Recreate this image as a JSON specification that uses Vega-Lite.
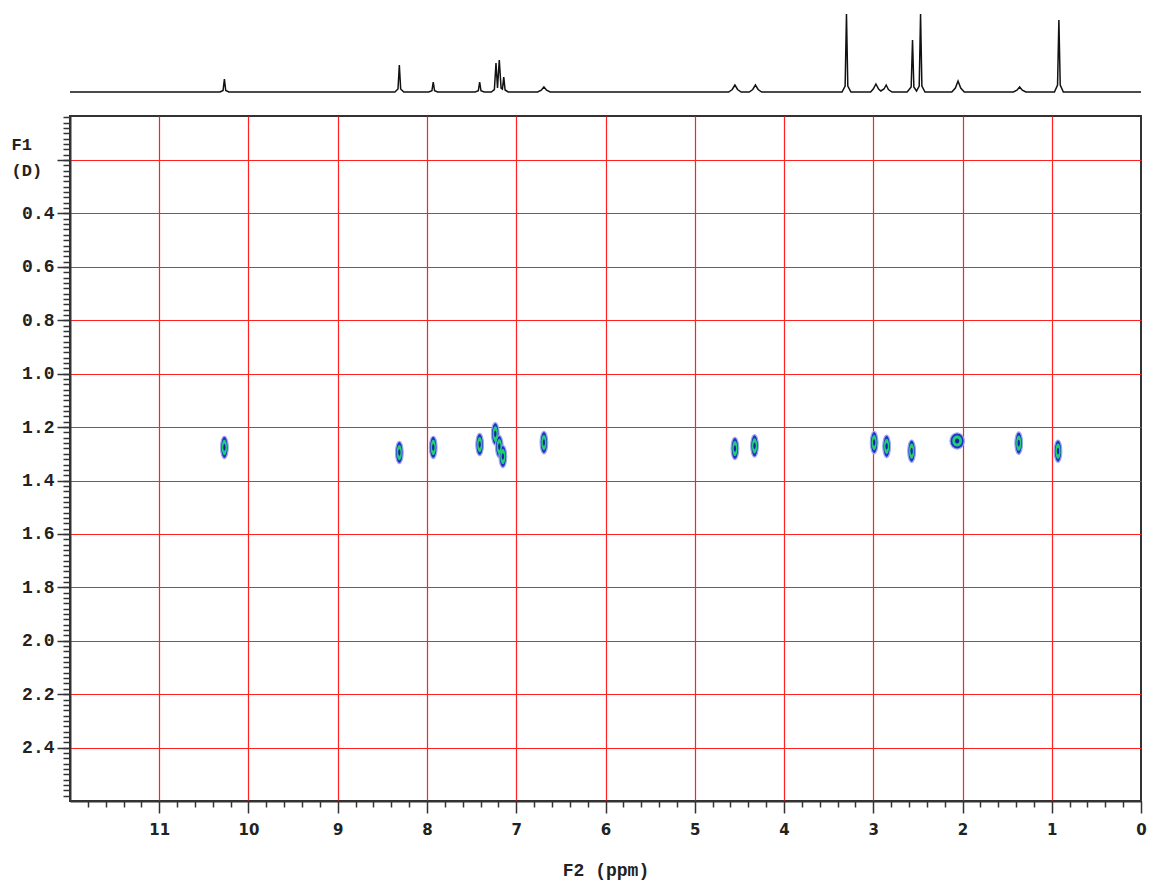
{
  "$schema": "https://vega.github.io/schema/vega-lite/v6.json",
  "background": "white",
  "padding": {"left": 10, "top": 4, "right": 2, "bottom": 2},
  "spacing": 22,
  "bounds": "flush",
  "config": {"axis": {"labelFlush": false, "labelOverlap": false}},
  "datasets": {
    "spectrum": [
      {"ppm": 12, "intensity": 0}, {"ppm": 10.32, "intensity": 0}, {"ppm": 10.285, "intensity": 1.5}, {"ppm": 10.27, "intensity": 13}, {"ppm": 10.255, "intensity": 1.5}, {"ppm": 10.22, "intensity": 0},
      {"ppm": 8.36, "intensity": 0}, {"ppm": 8.325, "intensity": 3}, {"ppm": 8.31, "intensity": 27}, {"ppm": 8.295, "intensity": 3}, {"ppm": 8.26, "intensity": 0},
      {"ppm": 7.98, "intensity": 0}, {"ppm": 7.945, "intensity": 1.2}, {"ppm": 7.93, "intensity": 10}, {"ppm": 7.915, "intensity": 1.2}, {"ppm": 7.88, "intensity": 0},
      {"ppm": 7.46, "intensity": 0}, {"ppm": 7.425, "intensity": 1.2}, {"ppm": 7.41, "intensity": 10}, {"ppm": 7.395, "intensity": 1.2}, {"ppm": 7.36, "intensity": 0},
      {"ppm": 7.28, "intensity": 0}, {"ppm": 7.245, "intensity": 2.5}, {"ppm": 7.227, "intensity": 29}, {"ppm": 7.21, "intensity": 4}, {"ppm": 7.19, "intensity": 32}, {"ppm": 7.17, "intensity": 4}, {"ppm": 7.155, "intensity": 3}, {"ppm": 7.14, "intensity": 15}, {"ppm": 7.125, "intensity": 2}, {"ppm": 7.09, "intensity": 0},
      {"ppm": 6.76, "intensity": 0}, {"ppm": 6.72, "intensity": 1.8}, {"ppm": 6.69, "intensity": 5}, {"ppm": 6.66, "intensity": 1.8}, {"ppm": 6.62, "intensity": 0},
      {"ppm": 4.62, "intensity": 0}, {"ppm": 4.58, "intensity": 2.5}, {"ppm": 4.55, "intensity": 7}, {"ppm": 4.52, "intensity": 2.5}, {"ppm": 4.48, "intensity": 0},
      {"ppm": 4.39, "intensity": 0}, {"ppm": 4.35, "intensity": 2.5}, {"ppm": 4.32, "intensity": 7}, {"ppm": 4.29, "intensity": 2.5}, {"ppm": 4.25, "intensity": 0},
      {"ppm": 3.35, "intensity": 0}, {"ppm": 3.315, "intensity": 6}, {"ppm": 3.3, "intensity": 78}, {"ppm": 3.285, "intensity": 6}, {"ppm": 3.25, "intensity": 0},
      {"ppm": 3.03, "intensity": 0}, {"ppm": 3.0, "intensity": 3}, {"ppm": 2.97, "intensity": 8}, {"ppm": 2.94, "intensity": 3}, {"ppm": 2.915, "intensity": 1}, {"ppm": 2.88, "intensity": 3}, {"ppm": 2.855, "intensity": 7}, {"ppm": 2.83, "intensity": 2.5}, {"ppm": 2.79, "intensity": 0},
      {"ppm": 2.62, "intensity": 0}, {"ppm": 2.575, "intensity": 5}, {"ppm": 2.56, "intensity": 52}, {"ppm": 2.545, "intensity": 5}, {"ppm": 2.515, "intensity": 1}, {"ppm": 2.485, "intensity": 6}, {"ppm": 2.47, "intensity": 78}, {"ppm": 2.455, "intensity": 6}, {"ppm": 2.42, "intensity": 0},
      {"ppm": 2.12, "intensity": 0}, {"ppm": 2.08, "intensity": 4}, {"ppm": 2.05, "intensity": 11}, {"ppm": 2.02, "intensity": 4}, {"ppm": 1.98, "intensity": 0},
      {"ppm": 1.43, "intensity": 0}, {"ppm": 1.39, "intensity": 1.8}, {"ppm": 1.36, "intensity": 5}, {"ppm": 1.33, "intensity": 1.8}, {"ppm": 1.29, "intensity": 0},
      {"ppm": 0.97, "intensity": 0}, {"ppm": 0.935, "intensity": 7}, {"ppm": 0.92, "intensity": 72}, {"ppm": 0.905, "intensity": 7}, {"ppm": 0.87, "intensity": 0},
      {"ppm": 0, "intensity": 0}
    ],
    "peaks": [
      {"ppm": 10.27, "D": 1.276, "form": "tall"},
      {"ppm": 8.31, "D": 1.295, "form": "tall"},
      {"ppm": 7.93, "D": 1.276, "form": "tall"},
      {"ppm": 7.41, "D": 1.265, "form": "tall"},
      {"ppm": 7.235, "D": 1.225, "form": "tall"},
      {"ppm": 7.19, "D": 1.273, "form": "tall"},
      {"ppm": 7.15, "D": 1.31, "form": "tall"},
      {"ppm": 6.69, "D": 1.258, "form": "tall"},
      {"ppm": 4.55, "D": 1.28, "form": "tall"},
      {"ppm": 4.33, "D": 1.27, "form": "tall"},
      {"ppm": 2.99, "D": 1.258, "form": "tall"},
      {"ppm": 2.85, "D": 1.272, "form": "tall"},
      {"ppm": 2.57, "D": 1.29, "form": "tall"},
      {"ppm": 2.06, "D": 1.252, "form": "round"},
      {"ppm": 1.37, "D": 1.26, "form": "tall"},
      {"ppm": 0.93, "D": 1.29, "form": "tall"}
    ]
  },
  "vconcat": [
    {
      "width": 1071,
      "height": 90,
      "view": {"stroke": null},
      "data": {"name": "spectrum"},
      "mark": {"type": "line", "color": "#111", "strokeWidth": 1.5},
      "encoding": {
        "x": {"field": "ppm", "type": "quantitative", "scale": {"domain": [0, 12], "reverse": true, "nice": false, "zero": false}, "axis": null},
        "y": {"field": "intensity", "type": "quantitative", "scale": {"domain": [-2, 88], "nice": false}, "axis": null}
      }
    },
    {
      "width": 1071,
      "height": 685,
      "view": {"stroke": "#333", "strokeWidth": 2},
      "data": {"name": "peaks"},
      "layer": [
        {
          "mark": {"type": "point", "filled": true, "size": 500, "color": "#2430c8", "stroke": "#9aa8f0", "strokeWidth": 1.2, "opacity": 1},
          "encoding": {
            "x": {"field": "ppm", "type": "quantitative", "scale": {"domain": [0, 12], "reverse": true, "nice": false, "zero": false},
              "axis": {"orient": "bottom", "values": [0, 1, 2, 3, 4, 5, 6, 7, 8, 9, 10, 11], "format": "d",
                "tickSize": 12, "tickColor": "#333", "tickWidth": 1.5, "domainColor": "#333", "domainWidth": 2,
                "labelFont": "DejaVu Sans", "labelFontWeight": "bold", "labelFontSize": 15, "labelColor": "#222", "labelPadding": 9,
                "grid": true, "gridColor": {"condition": {"test": "datum.value === 0", "value": "transparent"}, "value": "#ff2020"}, "gridOpacity": 1, "gridWidth": 1.2,
                "title": "F2 (ppm)", "titleFont": "Liberation Mono", "titleFontSize": 18, "titleFontWeight": "bold", "titleColor": "#222", "titleY": 74, "titleBaseline": "alphabetic"}},
            "y": {"field": "D", "type": "quantitative", "scale": {"domain": [0.035, 2.6], "reverse": true, "nice": false, "zero": false},
              "axis": {"orient": "left", "values": [0.2, 0.4, 0.6, 0.8, 1.0, 1.2, 1.4, 1.6, 1.8, 2.0, 2.2, 2.4],
                "labelExpr": "datum.value < 0.3 ? '' : format(datum.value, '.1f')",
                "tickSize": 13, "tickColor": "#333", "tickWidth": 1.5, "domainColor": "#333", "domainWidth": 2,
                "labelFont": "Liberation Mono", "labelFontWeight": "bold", "labelFontSize": 18, "labelColor": "#222", "labelPadding": 3,
                "grid": true, "gridColor": "#ff2020", "gridOpacity": 1, "gridWidth": 1.2,
                "title": ["F1", "(D)"], "titleAngle": 0, "titleX": -59, "titleY": 33, "titleAlign": "left", "titleBaseline": "alphabetic", "titleLineHeight": 26,
                "titleFont": "Liberation Mono", "titleFontSize": 17, "titleFontWeight": "bold", "titleColor": "#222"}},
            "shape": {"field": "form", "type": "nominal", "legend": null,
              "scale": {"domain": ["tall", "round"], "range": [
                "M0,-1C0.19,-1 0.34,-0.55 0.34,0C0.34,0.55 0.19,1 0,1C-0.19,1 -0.34,0.55 -0.34,0C-0.34,-0.55 -0.19,-1 0,-1Z",
                "M0,-0.72C0.36,-0.72 0.64,-0.4 0.64,0C0.64,0.4 0.36,0.72 0,0.72C-0.36,0.72 -0.64,0.4 -0.64,0C-0.64,-0.4 -0.36,-0.72 0,-0.72Z"]}}
          }
        },
        {
          "mark": {"type": "point", "filled": true, "size": 230, "color": "#1fd070", "opacity": 1},
          "encoding": {
            "x": {"field": "ppm", "type": "quantitative",
              "axis": {"orient": "bottom", "values": [0.2, 0.4, 0.6, 0.8, 1.2, 1.4, 1.6, 1.8, 2.2, 2.4, 2.6, 2.8, 3.2, 3.4, 3.6, 3.8, 4.2, 4.4, 4.6, 4.8, 5.2, 5.4, 5.6, 5.8, 6.2, 6.4, 6.6, 6.8, 7.2, 7.4, 7.6, 7.8, 8.2, 8.4, 8.6, 8.8, 9.2, 9.4, 9.6, 9.8, 10.2, 10.4, 10.6, 10.8, 11.2, 11.4, 11.6, 11.8],
                "labels": false, "tickSize": 6, "tickColor": "#333", "tickWidth": 1.5, "domain": false, "grid": false, "title": null}},
            "y": {"field": "D", "type": "quantitative",
              "axis": {"orient": "left", "values": [0.04, 0.06, 0.08, 0.1, 0.12, 0.14, 0.16, 0.18, 0.2, 0.22, 0.24, 0.26, 0.28, 0.3, 0.32, 0.34, 0.36, 0.38, 0.4, 0.42, 0.44, 0.46, 0.48, 0.5, 0.52, 0.54, 0.56, 0.58, 0.6, 0.62, 0.64, 0.66, 0.68, 0.7, 0.72, 0.74, 0.76, 0.78, 0.8, 0.82, 0.84, 0.86, 0.88, 0.9, 0.92, 0.94, 0.96, 0.98, 1.0, 1.02, 1.04, 1.06, 1.08, 1.1, 1.12, 1.14, 1.16, 1.18, 1.2, 1.22, 1.24, 1.26, 1.28, 1.3, 1.32, 1.34, 1.36, 1.38, 1.4, 1.42, 1.44, 1.46, 1.48, 1.5, 1.52, 1.54, 1.56, 1.58, 1.6, 1.62, 1.64, 1.66, 1.68, 1.7, 1.72, 1.74, 1.76, 1.78, 1.8, 1.82, 1.84, 1.86, 1.88, 1.9, 1.92, 1.94, 1.96, 1.98, 2.0, 2.02, 2.04, 2.06, 2.08, 2.1, 2.12, 2.14, 2.16, 2.18, 2.2, 2.22, 2.24, 2.26, 2.28, 2.3, 2.32, 2.34, 2.36, 2.38, 2.4, 2.42, 2.44, 2.46, 2.48, 2.5, 2.52, 2.54, 2.56, 2.58],
                "labels": false, "tickSize": 7, "tickColor": "#333", "tickWidth": 1.5, "domain": false, "grid": false, "title": null}},
            "shape": {"field": "form", "type": "nominal", "legend": null}
          }
        },
        {
          "mark": {"type": "point", "filled": true, "size": 45, "color": "#1820a8", "opacity": 1},
          "encoding": {
            "x": {"field": "ppm", "type": "quantitative", "axis": null},
            "y": {"field": "D", "type": "quantitative", "axis": null},
            "shape": {"field": "form", "type": "nominal", "legend": null}
          }
        }
      ],
      "resolve": {"axis": {"x": "independent", "y": "independent"}}
    }
  ]
}
